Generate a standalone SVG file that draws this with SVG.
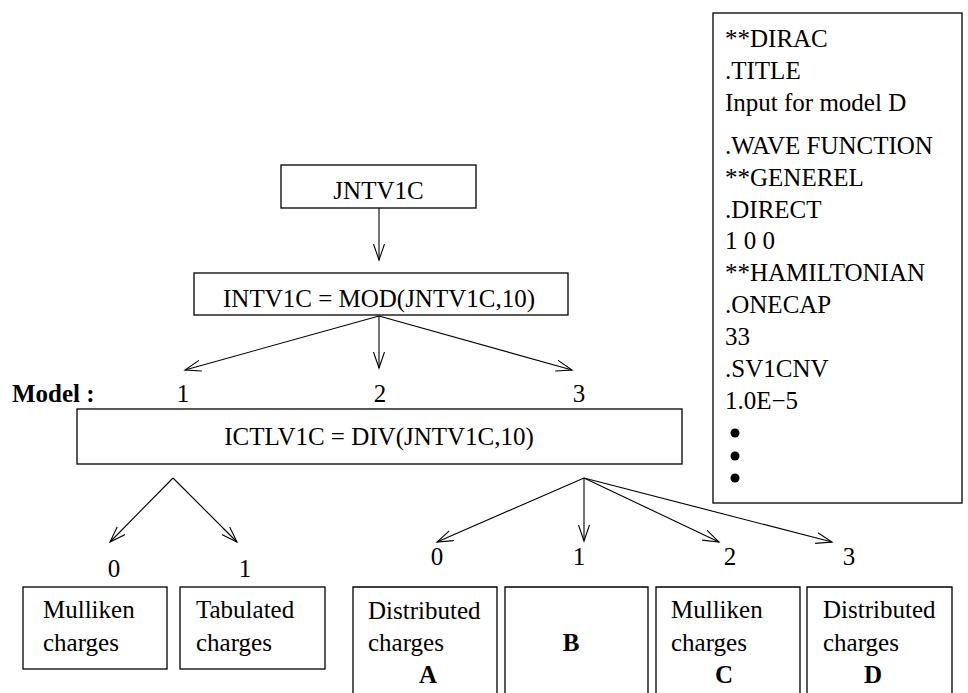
<svg xmlns="http://www.w3.org/2000/svg" width="968" height="693" viewBox="0 0 968 693">
<style>
text{font-family:"Liberation Serif","Times New Roman",serif;font-size:25px;fill:#000}
.b{font-weight:bold}
.m{text-anchor:middle}
.box{fill:none;stroke:#000;stroke-width:1.3}
.c line{stroke:#000;stroke-width:1.1;marker-end:url(#ah)}
</style>
<defs>
<marker id="ah" markerUnits="userSpaceOnUse" markerWidth="20" markerHeight="14" refX="16" refY="6" orient="auto" viewBox="0 0 20 14">
<polyline points="0,0.5 16,6 0,11.5" fill="none" stroke="#000" stroke-width="1.1"/>
</marker>
</defs>
<rect width="968" height="693" fill="#fff"/>
<g id="jntv1c"><rect class="box" x="281" y="165" width="195" height="43"/><text class="m" x="378.5" y="199">JNTV1C</text></g>
<g id="intv1c"><rect class="box" x="194" y="273" width="374" height="42"/><text class="m" x="379" y="307">INTV1C = MOD(JNTV1C,10)</text></g>
<g id="model-labels"><text class="b" x="12" y="402">Model :</text><text class="m" x="183" y="402">1</text><text class="m" x="380" y="402">2</text><text class="m" x="579" y="402">3</text></g>
<g id="ictlv1c"><rect class="box" x="77" y="409" width="605" height="55"/><text class="m" x="379" y="445">ICTLV1C = DIV(JNTV1C,10)</text></g>
<g id="branch-labels"><text class="m" x="114" y="577">0</text><text class="m" x="245" y="577">1</text><text class="m" x="437" y="565">0</text><text class="m" x="579" y="565">1</text><text class="m" x="730" y="565">2</text><text class="m" x="849" y="565">3</text></g>
<g id="mulliken"><rect class="box" x="23" y="587" width="144" height="82"/><text x="43" y="618">Mulliken</text><text x="43" y="651">charges</text></g>
<g id="tabulated"><rect class="box" x="180" y="587" width="145" height="82"/><text x="196" y="618">Tabulated</text><text x="196" y="651">charges</text></g>
<g id="modelA"><path class="box" d="M353,700 V587 H497 V700"/><text x="368" y="619">Distributed</text><text x="368" y="651">charges</text><text class="m b" x="428" y="683">A</text></g>
<g id="modelB"><path class="box" d="M505,700 V587 H648 V700"/><text class="m b" x="571" y="651">B</text></g>
<g id="modelC"><path class="box" d="M656,700 V587 H800 V700"/><text x="671" y="618">Mulliken</text><text x="671" y="651">charges</text><text class="m b" x="724" y="683">C</text></g>
<g id="modelD"><path class="box" d="M807,700 V587 H952 V700"/><text x="823" y="618">Distributed</text><text x="823" y="651">charges</text><text class="m b" x="873" y="683">D</text></g>
<g id="input-file"><rect class="box" x="713" y="13" width="249" height="490"/>
<text x="725" y="47">**DIRAC</text>
<text x="725" y="79">.TITLE</text>
<text x="725" y="111">Input for model D</text>
<text x="725" y="154">.WAVE FUNCTION</text>
<text x="725" y="186">**GENEREL</text>
<text x="725" y="218">.DIRECT</text>
<text x="725" y="249">1 0 0</text>
<text x="725" y="281">**HAMILTONIAN</text>
<text x="725" y="313">.ONECAP</text>
<text x="725" y="345">33</text>
<text x="725" y="377">.SV1CNV</text>
<text x="725" y="409">1.0E−5</text>
<circle cx="735" cy="433" r="4.5"/><circle cx="735" cy="456" r="4.5"/><circle cx="735" cy="478" r="4.5"/>
</g>
<g class="c" id="connectors">
<line x1="379" y1="208" x2="379" y2="260"/>
<line x1="379" y1="316" x2="185" y2="370"/>
<line x1="379" y1="316" x2="379" y2="368"/>
<line x1="379" y1="316" x2="572" y2="370"/>
<line x1="173" y1="478" x2="110" y2="542"/>
<line x1="173" y1="478" x2="237" y2="542"/>
<line x1="584" y1="478" x2="437" y2="542"/>
<line x1="584" y1="478" x2="584" y2="541"/>
<line x1="584" y1="478" x2="719" y2="542"/>
<line x1="584" y1="478" x2="832" y2="542"/>
</g>
</svg>
